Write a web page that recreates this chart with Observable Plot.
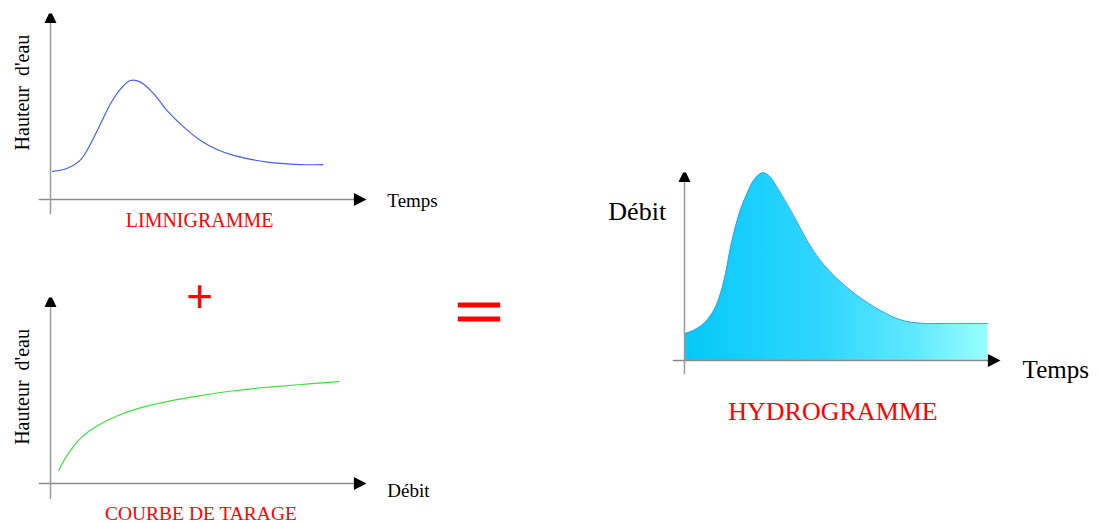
<!DOCTYPE html>
<html><head><meta charset="utf-8">
<script src="https://cdn.jsdelivr.net/npm/d3@7"></script>
<script src="https://cdn.jsdelivr.net/npm/@observablehq/plot@0.6"></script>
<style>
html,body{margin:0;padding:0;background:#fff;}
#wrap{position:relative;width:1098px;height:523px;overflow:hidden;background:#fff;}
#wrap > svg, #wrap > div {position:absolute;}
</style></head><body><div id="wrap"></div>
<script>
// ---- Data (abstract units) ----
const limniTime   = [0.07, 0.53, 0.95, 1.27, 1.58, 1.90, 2.22, 2.53, 2.85, 3.27, 3.69, 4.22, 4.75, 5.27, 5.80, 6.86, 7.91, 8.62];
const limniHeight = [1.51, 1.68, 2.13, 2.99, 4.06, 5.15, 5.95, 6.40, 6.31, 5.68, 4.78, 3.89, 3.17, 2.69, 2.37, 2.01, 1.88, 1.87];

const tarageDebit  = [0.26, 0.42, 0.63, 0.84, 1.16, 1.58, 2.11, 2.85, 3.69, 4.75, 5.80, 6.86, 7.91, 9.12];
const tarageHeight = [0.70, 1.24, 1.77, 2.27, 2.76, 3.21, 3.66, 4.10, 4.42, 4.73, 5.00, 5.18, 5.32, 5.48];

const hydroTime  = [0.00, 0.29, 0.61, 0.93, 1.14, 1.30, 1.46, 1.61, 1.77, 1.98, 2.19, 2.46, 2.67, 2.93, 3.24, 3.56, 3.88, 4.30, 4.83, 5.46, 6.20, 6.84, 7.47, 8.31, 9.60];
const hydroDebit = [1.42, 1.60, 1.95, 2.66, 3.55, 4.61, 6.03, 7.09, 8.00, 8.87, 9.57, 9.98, 9.84, 9.22, 8.34, 7.38, 6.38, 5.32, 4.35, 3.46, 2.66, 2.16, 1.98, 1.97, 1.97];

// Text labels
const limniLabels  = {y: "Hauteur  d'eau", x: "Temps", title: "LIMNIGRAMME"};
const tarageLabels = {y: "Hauteur  d'eau", x: "Débit", title: "COURBE DE TARAGE"};
const hydroLabels  = {y: "Débit", x: "Temps", title: "HYDROGRAMME"};
const plusSign = "+";
const equalsSign = "=";

// ---- Build tables ----
const limni  = limniTime.map((t, i) => ({t, h: limniHeight[i]}));
const tarage = tarageDebit.map((q, i) => ({q, h: tarageHeight[i]}));
const hydro  = hydroTime.map((t, i) => ({t, q: hydroDebit[i]}));

const serif = "'Liberation Serif', 'Times New Roman', serif";
const sans  = "'Liberation Sans', Arial, sans-serif";
const RED = "#ff0000";

const arrowUp = {draw(ctx, size) { const r = Math.sqrt(size / Math.PI);
  ctx.moveTo(-0.25 * r, 0); ctx.lineTo(0.25 * r, 0); ctx.lineTo(r, 1.6 * r); ctx.lineTo(-r, 1.6 * r); ctx.closePath(); }};
const arrowRight = {draw(ctx, size) { const r = Math.sqrt(size / Math.PI);
  ctx.moveTo(0, 0); ctx.lineTo(-2.1 * r, -1.1 * r); ctx.lineTo(-2.1 * r, 1.1 * r); ctx.closePath(); }};

function axes(xMin, yMin) {
  return [
    Plot.line([[xMin, 0], [9.8, 0]], {stroke: "#8a8a8a", strokeWidth: 1.5}),
    Plot.line([[0, yMin], [0, 9.7]], {stroke: "#9a9a9a", strokeWidth: 1.5}),
    Plot.dot([[10, 0]], {symbol: arrowRight, r: 6, fill: "#000"}),
    Plot.dot([[0, 10]], {symbol: arrowUp, r: 6, fill: "#000"})
  ];
}
function label(text, x, y, opts) {
  return Plot.text([text], {x: () => x, y: () => y, text: d => d, fontFamily: serif, fill: "#000", ...opts});
}
const base = {x: {domain: [0, 10], axis: null}, y: {domain: [0, 10], axis: null},
  style: {background: "transparent", overflow: "visible"}};

const wrap = document.getElementById("wrap");
function place(el, left, top) { el.style.left = left + "px"; el.style.top = top + "px"; wrap.appendChild(el); }

// Panel 1: limnigramme
const p1 = Plot.plot({...base, width: 450, height: 240, marginLeft: 50, marginRight: 84, marginTop: 13, marginBottom: 41,
  marks: [
    ...axes(-0.35, -0.75),
    Plot.line(limni, {x: "t", y: "h", curve: "catmull-rom", stroke: "#4a5cf2", strokeWidth: 1.2}),
    label(limniLabels.y, -0.89, 5.75, {rotate: -90, fontSize: 20}),
    label(limniLabels.x, 10.66, -0.1, {textAnchor: "start", fontSize: 19}),
    label(limniLabels.title, 4.72, -1.13, {fontSize: 20, fill: RED})
  ]});
place(p1, 0, 0);

// Panel 2: courbe de tarage
const p2 = Plot.plot({...base, width: 450, height: 273, marginLeft: 50, marginRight: 84, marginTop: 47, marginBottom: 40,
  marks: [
    ...axes(-0.35, -0.8),
    Plot.line(tarage, {x: "q", y: "h", curve: "basis", stroke: "#3ee03e", strokeWidth: 1.2}),
    label(tarageLabels.y, -0.89, 5.19, {rotate: -90, fontSize: 20}),
    label(tarageLabels.x, 10.66, -0.38, {textAnchor: "start", fontSize: 19}),
    label(tarageLabels.title, 4.76, -1.63, {fontSize: 19.5, fill: RED}),
    label(plusSign, 4.72, 10.0, {fontSize: 46, fontFamily: sans, fill: RED})
  ]});
place(p2, 0, 250);

// Panel 3: hydrogramme
const gradient = () => {
  const ns = "http://www.w3.org/2000/svg";
  const defs = document.createElementNS(ns, "defs");
  const lg = document.createElementNS(ns, "linearGradient");
  lg.setAttribute("id", "hydroGrad");
  lg.setAttribute("x1", "0"); lg.setAttribute("x2", "1"); lg.setAttribute("y1", "0"); lg.setAttribute("y2", "0");
  [[0, "#05c8f7"], [0.45, "#2fd6ff"], [0.75, "#5ee8ff"], [1, "#98feff"]].forEach(([o, c]) => {
    const s = document.createElementNS(ns, "stop");
    s.setAttribute("offset", o); s.setAttribute("stop-color", c); lg.appendChild(s);
  });
  defs.appendChild(lg);
  return defs;
};
const p3 = Plot.plot({...base, width: 518, height: 290, marginLeft: 104, marginRight: 98, marginTop: 22, marginBottom: 80,
  marks: [
    gradient,
    Plot.areaY(hydro, {x: "t", y: "q", curve: "catmull-rom", fill: "url(#hydroGrad)"}),
    Plot.line(hydro, {x: "t", y: "q", curve: "catmull-rom", stroke: "#3f9fe6", strokeWidth: 1}),
    ...axes(-0.35, -0.69),
    label(hydroLabels.y, -2.41, 7.93, {textAnchor: "start", fontSize: 26}),
    label(hydroLabels.x, 10.70, -0.53, {textAnchor: "start", fontSize: 25}),
    label(hydroLabels.title, 4.70, -2.74, {fontSize: 26, fill: RED})
  ]});
place(p3, 580, 150);

// Equals sign
const eq = document.createElement("div");
eq.textContent = equalsSign;
eq.style.cssText = `width:60px;text-align:center;font:56px/1 ${sans};color:${RED};-webkit-text-stroke:1px ${RED};transform:scaleX(1.5);`;
place(eq, 449, 283);
</script></body></html>
